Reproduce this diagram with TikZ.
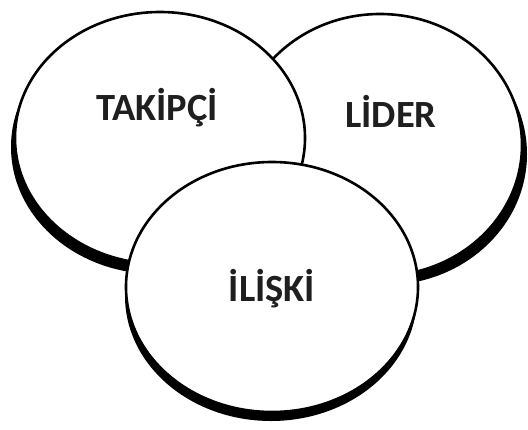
\documentclass[tikz,border=0pt]{standalone}
\usepackage{fontspec}
\setmainfont{Carlito}
\begin{document}
\begin{tikzpicture}[x=1pt,y=-1pt,
  ring/.style={draw=black,line width=2.6pt,fill=white},
  ringshadow/.style={fill=black},
  label/.style={anchor=base,font=\bfseries\fontsize{38.5}{38.5}\selectfont,text=black!88}]
\useasboundingbox (0,0) rectangle (528,429);
% right circle
\fill[ringshadow] (385,154) ellipse [x radius=142, y radius=131];
\draw[ring] (380,145) ellipse [x radius=142, y radius=131];
% left circle
\fill[ringshadow] (156,147) ellipse [x radius=145, y radius=127];
\draw[ring] (160,138) ellipse [x radius=145, y radius=126];
% bottom circle
\fill[ringshadow] (271,296) ellipse [x radius=146, y radius=125];
\draw[ring] (272,287) ellipse [x radius=146, y radius=125];
\node[label] (t) at (157,120) {TAKİPÇİ};
\node[label] (l) at (391,127) {LİDER};
\node[label] (i) at (272,301) {İLİŞKİ};
\end{tikzpicture}
\end{document}
